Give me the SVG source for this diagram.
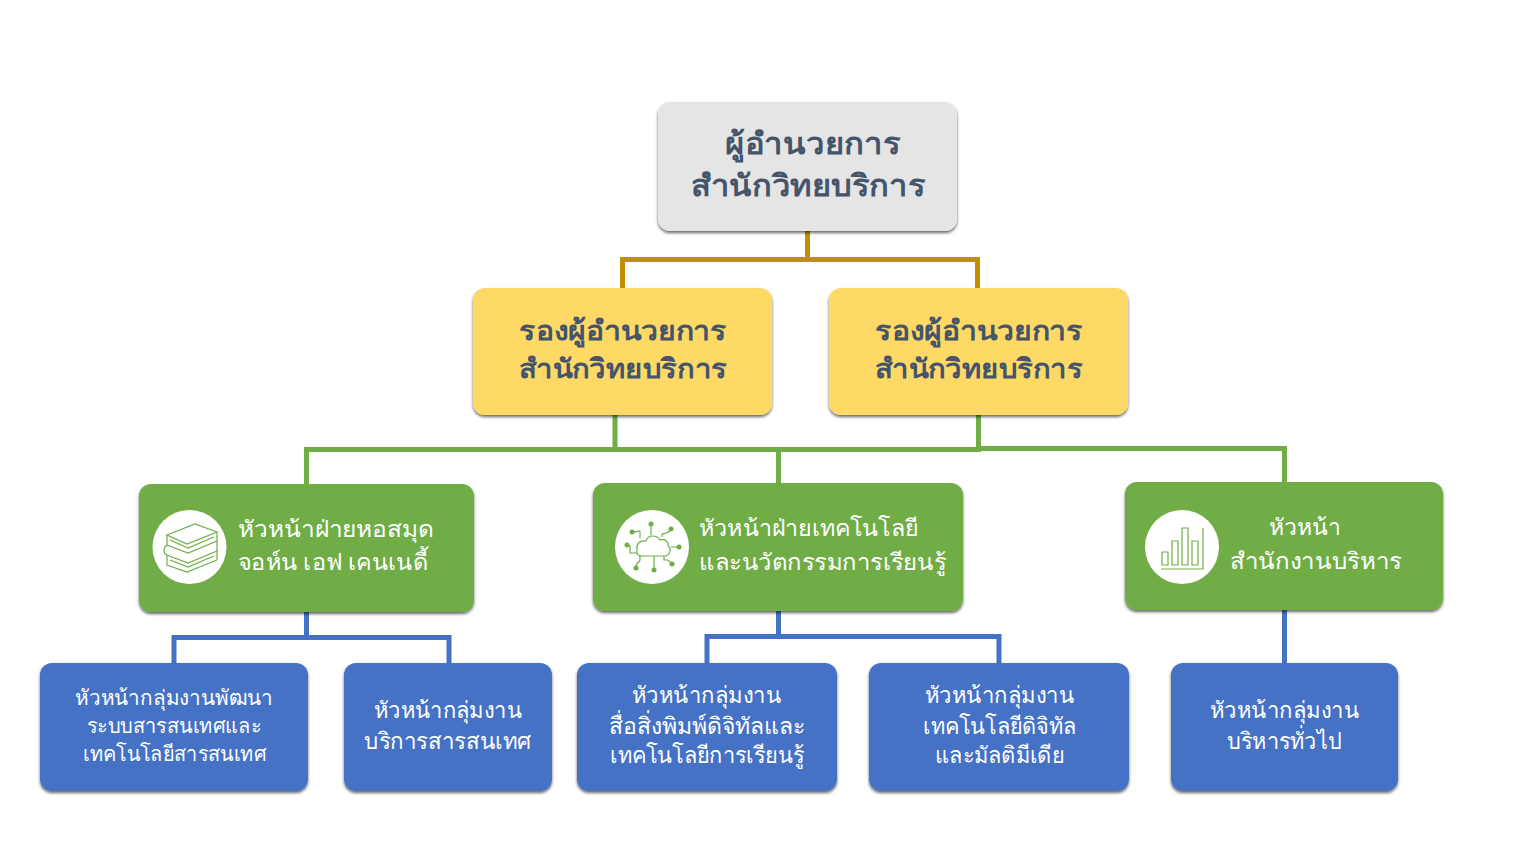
<svg xmlns="http://www.w3.org/2000/svg" width="1529" height="866" viewBox="0 0 1529 866">
<defs>
<filter id="sh" x="-10%" y="-10%" width="120%" height="125%"><feDropShadow dx="0" dy="2" stdDeviation="1.600" flood-color="#000" flood-opacity="0.6"/></filter>
</defs>
<style>
text{font-family:"Noto Sans","Liberation Sans",sans-serif;text-anchor:middle}
.w{fill:#fff;font-size:23px}
.b{fill:#fff;font-size:21px}
.d{fill:#44546a;font-weight:700;font-size:27px}
.t{fill:#44546a;font-weight:700;font-size:30px}
.c{fill:none;stroke-width:5}
.g{stroke:#70ad47}.y{stroke:#bf9000}.u{stroke:#4472c4}
.n{filter:url(#sh)}
.i{fill:none;stroke:#70ad47;stroke-width:1.200}
.f{fill:#70ad47}
</style>
<rect width="1529" height="866" fill="#fff"/>
<g id="connectors">
<path class="c y" d="M807.5 231V259.500M622.500 288V259.500H977.500V288"/>
<path class="c g" d="M615 415V449.500M306.500 484V449.500H981M778.500 449.500V483M978.500 415V448.500H1284.500V482"/>
<path class="c u" d="M306.500 612V637.500M174 663V637.500H449V663"/>
<path class="c u" d="M778.500 611V636.500M707 663V636.500H999V663"/>
<path class="c u" d="M1284.500 610V663"/>
</g>
<g id="n-director"><rect class="n" x="658" y="102" width="299" height="129" rx="12" fill="#e5e5e5"/>
<text class="t" x="812.500" y="154" textLength="175" lengthAdjust="spacingAndGlyphs">ผู้อำนวยการ</text><text class="t" x="808" y="196" textLength="234" lengthAdjust="spacingAndGlyphs">สำนักวิทยบริการ</text></g>
<g id="n-deputy1"><rect class="n" x="473" y="288" width="299" height="127" rx="12" fill="#ffd966"/>
<text class="d" x="623" y="340" textLength="208" lengthAdjust="spacingAndGlyphs">รองผู้อำนวยการ</text><text class="d" x="623" y="378" textLength="208" lengthAdjust="spacingAndGlyphs">สำนักวิทยบริการ</text></g>
<g id="n-deputy2"><rect class="n" x="829" y="288" width="299" height="127" rx="12" fill="#ffd966"/>
<text class="d" x="979" y="340" textLength="208" lengthAdjust="spacingAndGlyphs">รองผู้อำนวยการ</text><text class="d" x="979" y="378" textLength="208" lengthAdjust="spacingAndGlyphs">สำนักวิทยบริการ</text></g>
<g id="n-library"><rect class="n" x="139" y="484" width="335" height="128" rx="12" fill="#70ad47"/>
<circle cx="189.500" cy="547" r="37" fill="#fff"/>
<path class="i" d="M167 535L195 524L217 532L187 544ZM167 535V545L188 553L217 541M217 532V541M167 545C163 548 163 553 167 555L188 563L217 551M217 541V551M167 555V565L187 572L217 560M217 551V560M170 540L188 548L214 537M170 560L188 567L214 556"/>
<text class="w" x="336" y="537" textLength="196" lengthAdjust="spacingAndGlyphs">หัวหน้าฝ่ายหอสมุด</text><text class="w" x="333" y="570" textLength="190" lengthAdjust="spacingAndGlyphs">จอห์น เอฟ เคนเนดี้</text></g>
<g id="n-tech"><rect class="n" x="593" y="483" width="370" height="128" rx="12" fill="#70ad47"/>
<circle cx="652" cy="547" r="37" fill="#fff"/>
<path class="i" d="M641 556H664C670 556 672 549 668 546C669 541 663 538 660 540C657 535 648 534 646 541C640 540 636 544 637 549C636 553 638 556 641 556Z"/>
<path class="i" d="M651 535V525M640 538V532C640 530 638 532 632 532M662 537V535C662 532 668 535 670 530M671 547H679M637 553H630V545M640 556V560C640 563 636 561 636 568M654 556V570M664 556V560H668L672 564"/>
<g class="f"><circle cx="651" cy="524" r="2.500"/><circle cx="632" cy="532" r="2.500"/><circle cx="671" cy="529" r="2.500"/><circle cx="679" cy="547" r="2.500"/><circle cx="627" cy="545" r="2.500"/><circle cx="636" cy="568" r="2.500"/><circle cx="654" cy="570" r="2.500"/><circle cx="672" cy="564" r="2.500"/></g>
<text class="w" x="808.500" y="536" textLength="219" lengthAdjust="spacingAndGlyphs">หัวหน้าฝ่ายเทคโนโลยี</text><text class="w" x="822.500" y="570" textLength="247" lengthAdjust="spacingAndGlyphs">และนวัตกรรมการเรียนรู้</text></g>
<g id="n-admin"><rect class="n" x="1125" y="482" width="318" height="128" rx="12" fill="#70ad47"/>
<circle cx="1182" cy="547" r="37" fill="#fff"/>
<path class="i" d="M1162 552h6v13h-6zM1172 541h6v24h-6zM1182 528h6v37h-6zM1192 541h6v24h-6zM1203 528V569H1161"/>
<text class="w" x="1305" y="535" textLength="72" lengthAdjust="spacingAndGlyphs">หัวหน้า</text><text class="w" x="1316" y="569" textLength="172" lengthAdjust="spacingAndGlyphs">สำนักงานบริหาร</text></g>
<g id="n-b1"><rect class="n" x="40" y="663" width="268" height="128" rx="12" fill="#4472c4"/>
<text class="b" x="174" y="705" textLength="198" lengthAdjust="spacingAndGlyphs">หัวหน้ากลุ่มงานพัฒนา</text><text class="b" x="174" y="733" textLength="174" lengthAdjust="spacingAndGlyphs">ระบบสารสนเทศและ</text><text class="b" x="174.500" y="761" textLength="183" lengthAdjust="spacingAndGlyphs">เทคโนโลยีสารสนเทศ</text></g>
<g id="n-b2"><rect class="n" x="344" y="663" width="208" height="128" rx="12" fill="#4472c4"/>
<text class="w" x="448" y="718" textLength="148" lengthAdjust="spacingAndGlyphs">หัวหน้ากลุ่มงาน</text><text class="w" x="448" y="749" textLength="168" lengthAdjust="spacingAndGlyphs">บริการสารสนเทศ</text></g>
<g id="n-b3"><rect class="n" x="577" y="663" width="260" height="128" rx="12" fill="#4472c4"/>
<text class="w" x="706.500" y="703" textLength="149" lengthAdjust="spacingAndGlyphs">หัวหน้ากลุ่มงาน</text><text class="w" x="707" y="734" textLength="196" lengthAdjust="spacingAndGlyphs">สื่อสิ่งพิมพ์ดิจิทัลและ</text><text class="w" x="707" y="763" textLength="194" lengthAdjust="spacingAndGlyphs">เทคโนโลยีการเรียนรู้</text></g>
<g id="n-b4"><rect class="n" x="869" y="663" width="260" height="128" rx="12" fill="#4472c4"/>
<text class="w" x="999.500" y="703" textLength="149" lengthAdjust="spacingAndGlyphs">หัวหน้ากลุ่มงาน</text><text class="w" x="999.500" y="734" textLength="153" lengthAdjust="spacingAndGlyphs">เทคโนโลยีดิจิทัล</text><text class="w" x="999.500" y="763" textLength="129" lengthAdjust="spacingAndGlyphs">และมัลติมีเดีย</text></g>
<g id="n-b5"><rect class="n" x="1171" y="663" width="227" height="128" rx="12" fill="#4472c4"/>
<text class="w" x="1284.500" y="718" textLength="149" lengthAdjust="spacingAndGlyphs">หัวหน้ากลุ่มงาน</text><text class="w" x="1284.500" y="749" textLength="115" lengthAdjust="spacingAndGlyphs">บริหารทั่วไป</text></g>
</svg>
